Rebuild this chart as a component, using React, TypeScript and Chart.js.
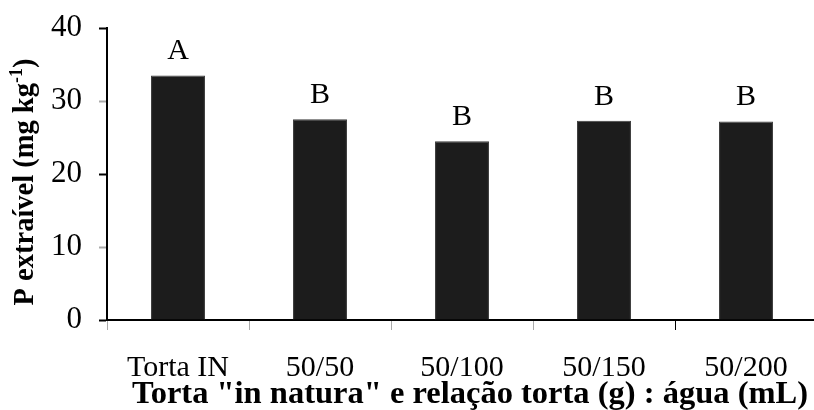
import React, { useEffect, useRef } from "react";
import { Chart, registerables } from "chart.js";

Chart.register(...registerables);

const categories = ["Torta IN", "50/50", "50/100", "50/150", "50/200"];
const values = [33.5, 27.5, 24.5, 27.3, 27.2];
const letters = ["A", "B", "B", "B", "B"];
const yTicks = [0, 10, 20, 30, 40];

const SERIF = "'Liberation Serif', 'Times New Roman', serif";

const annotations = {
  id: "annotations",
  afterDatasetsDraw(chart: any) {
    const ctx = chart.ctx;
    const meta = chart.getDatasetMeta(0);
    ctx.save();
    ctx.fillStyle = "#000";
    ctx.font = `30px ${SERIF}`;
    ctx.textAlign = "center";
    ctx.textBaseline = "alphabetic";
    meta.data.forEach((bar: any, i: number) => {
      ctx.fillText(letters[i], bar.x, bar.y - 16);
    });

    // x axis title
    ctx.font = `bold 32.5px ${SERIF}`;
    ctx.textAlign = "center";
    ctx.fillText('Torta "in natura" e relação torta (g) : água (mL)', 470, 403);

    // y axis title with superscript
    ctx.translate(33, 182);
    ctx.rotate(-Math.PI / 2);
    const main = "P extraível (mg kg";
    const sup = "-1";
    const tail = ")";
    ctx.font = `bold 28.5px ${SERIF}`;
    const wMain = ctx.measureText(main).width;
    const wTail = ctx.measureText(tail).width;
    ctx.font = `bold 18px ${SERIF}`;
    const wSup = ctx.measureText(sup).width;
    const total = wMain + wSup + wTail;
    let x = -total / 2;
    ctx.textAlign = "left";
    ctx.font = `bold 28.5px ${SERIF}`;
    ctx.fillText(main, x, 0);
    x += wMain;
    ctx.font = `bold 18px ${SERIF}`;
    ctx.fillText(sup, x, -11);
    x += wSup;
    ctx.font = `bold 28.5px ${SERIF}`;
    ctx.fillText(tail, x, 0);
    ctx.restore();
  },
};

export default function App() {
  const ref = useRef<HTMLCanvasElement | null>(null);

  useEffect(() => {
    if (!ref.current) return;
    const chart = new Chart(ref.current, {
      type: "bar",
      data: {
        labels: categories,
        datasets: [
          {
            data: values,
            backgroundColor: "#1c1c1c",
            borderColor: "#3c3c3c",
            borderWidth: 1,
            categoryPercentage: 1,
            barPercentage: 0.38,
          },
        ],
      },
      options: {
        animation: false,
        responsive: false,
        devicePixelRatio: 1,
        layout: { padding: { left: 0, right: 13, top: 28, bottom: 0 } },
        plugins: {
          legend: { display: false },
          tooltip: { enabled: false },
          title: { display: false },
        },
        scales: {
          x: {
            offset: true,
            grid: {
              offset: true,
              drawOnChartArea: false,
              drawTicks: true,
              tickLength: 10,
              tickWidth: 1,
              tickColor: (c: any) => (c.index === 4 ? "#000" : "#aaa"),
            },
            border: { display: true, color: "#000", width: 2 },
            ticks: {
              color: "#000",
              font: { family: SERIF, size: 30 },
              padding: 20,
              maxRotation: 0,
              autoSkip: false,
            },
            afterFit: (s: any) => {
              s.height = 90;
              s.paddingLeft = 0;
              s.paddingRight = 0;
            },
          },
          y: {
            min: 0,
            max: 40,
            afterBuildTicks: (s: any) => {
              s.ticks = yTicks.map((v) => ({ value: v }));
            },
            grid: {
              drawOnChartArea: false,
              drawTicks: true,
              tickLength: 8,
              tickWidth: 2,
              tickColor: (c: any) => (c.index % 2 === 0 ? "#000" : "#aaa"),
            },
            border: { display: true, color: "#000", width: 2 },
            ticks: {
              color: "#000",
              font: { family: SERIF, size: 31 },
              padding: 17,
            },
            afterFit: (s: any) => {
              s.width = 107;
              s.paddingTop = 0;
              s.paddingBottom = 0;
            },
          },
        },
      },
      plugins: [annotations],
    });
    return () => chart.destroy();
  }, []);

  return (
    <div
      style={{
        position: "absolute",
        left: 0,
        top: 0,
        width: 814,
        height: 410,
        overflow: "hidden",
        background: "#fff",
      }}
    >
      <canvas ref={ref} width={830} height={410} style={{ display: "block" }} />
    </div>
  );
}
